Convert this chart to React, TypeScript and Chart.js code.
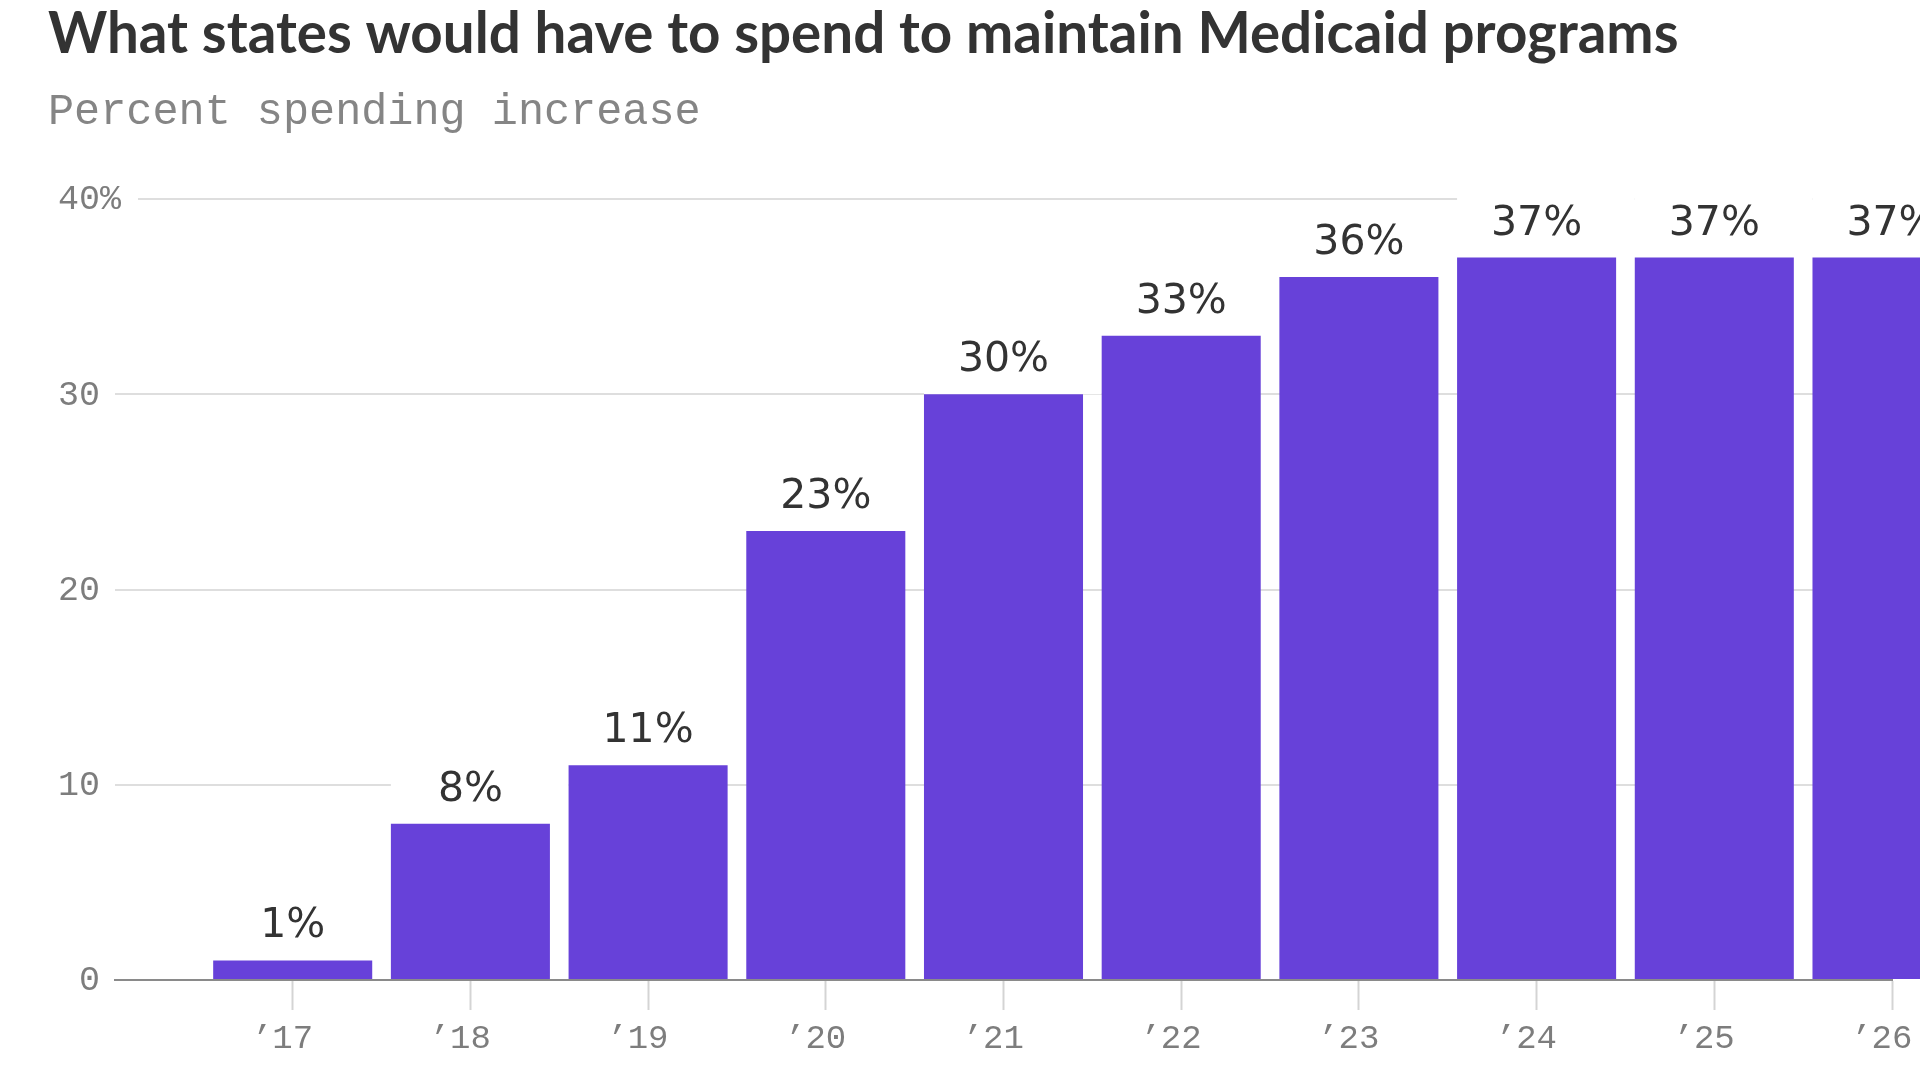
import React, { useEffect, useRef } from 'react';
import { Chart, registerables } from 'chart.js';

Chart.register(...registerables);

// ---- data ----
const TITLE = 'What states would have to spend to maintain Medicaid programs';
const SUBTITLE = 'Percent spending increase';
const years = [2017, 2018, 2019, 2020, 2021, 2022, 2023, 2024, 2025, 2026];
const increases = [1, 8, 11, 23, 30, 33, 36, 37, 37, 37];
const yTickValues = [0, 10, 20, 30, 40];
const axisStartYear = 2016;
const axisEndYear = 2026;

const BAR_COLOR = '#6741d9';
const MONO = '"Liberation Mono", "DejaVu Sans Mono", monospace';
const LABEL_FONT = '"DejaVu Sans", "Liberation Sans", sans-serif';
const BAR_PCT = 0.895;

const yearLabel = (v: number) => '\u2019' + String(v).slice(2) + ' ';

const decorPlugin = {
  id: 'decor',
  beforeDraw(chart: any) {
    const { ctx } = chart;
    ctx.save();
    ctx.fillStyle = '#ffffff';
    ctx.fillRect(0, 0, chart.width, chart.height);
    ctx.textAlign = 'left';
    ctx.textBaseline = 'alphabetic';
    ctx.fillStyle = '#333333';
    ctx.font = '700 56.5px Lato, sans-serif';
    ctx.fillText(TITLE, 48, 53);
    ctx.fillStyle = '#858585';
    ctx.font = `43.5px ${MONO}`;
    ctx.fillText(SUBTITLE, 48, 124);
    ctx.restore();
  },
  beforeDatasetsDraw(chart: any) {
    const { ctx, chartArea } = chart;
    const ys = chart.scales.y;
    const xs = chart.scales.x;
    ctx.save();
    // y tick labels (number right-aligned, % hanging)
    ctx.font = `35px ${MONO}`;
    ctx.textBaseline = 'middle';
    const xRight = chartArea.left - 15;
    yTickValues.forEach((v) => {
      const py = ys.getPixelForValue(v);
      const num = String(v);
      const suffix = v === yTickValues[yTickValues.length - 1] ? '%' : '';
      if (suffix) {
        const sw = ctx.measureText(suffix).width;
        ctx.fillStyle = '#ffffff';
        ctx.fillRect(xRight - 80, py - 20, 80 + sw + 17, 40);
      }
      ctx.fillStyle = '#7d7d7d';
      ctx.textAlign = 'right';
      ctx.fillText(num, xRight, py + 1);
      if (suffix) {
        ctx.textAlign = 'left';
        ctx.fillText(suffix, xRight, py + 1);
      }
    });
    // white label boxes behind value labels
    const meta = chart.getDatasetMeta(0);
    meta.data.forEach((bar: any, i: number) => {
      const pitch = xs.getPixelForValue(years[i] + 1) - xs.getPixelForValue(years[i]);
      const left = bar.x - bar.width / 2;
      const top = bar.y - 23 - 32 - 9;
      ctx.fillStyle = '#ffffff';
      ctx.fillRect(left, top, pitch, bar.y - top);
    });
    ctx.restore();
  },
  afterDatasetsDraw(chart: any) {
    const { ctx } = chart;
    const meta = chart.getDatasetMeta(0);
    ctx.save();
    ctx.font = `41px ${LABEL_FONT}`;
    ctx.fillStyle = '#333333';
    ctx.textAlign = 'center';
    ctx.textBaseline = 'alphabetic';
    meta.data.forEach((bar: any, i: number) => {
      ctx.fillText(increases[i] + '%', bar.x, bar.y - 23);
    });
    ctx.restore();
  },
};

export default function App() {
  const ref = useRef<HTMLCanvasElement | null>(null);
  useEffect(() => {
    document.body.style.overflow = 'hidden';
    const canvas = ref.current;
    if (!canvas) return;
    const chart = new Chart(canvas, {
      type: 'bar',
      data: {
        datasets: [
          {
            data: years.map((x, i) => ({ x, y: increases[i] })),
            backgroundColor: BAR_COLOR,
            borderWidth: 0,
            categoryPercentage: 1,
            barPercentage: BAR_PCT,
            clip: false,
          },
        ],
      },
      options: {
        animation: false,
        responsive: false,
        devicePixelRatio: 1,
        layout: { padding: { top: 199, left: 115, right: 28, bottom: 0 } },
        plugins: { legend: { display: false }, tooltip: { enabled: false }, title: { display: false } },
        scales: {
          x: {
            type: 'linear',
            min: axisStartYear,
            max: axisEndYear,
            offset: false,
            grid: {
              offset: false,
              drawOnChartArea: false,
              drawTicks: true,
              tickLength: 30,
              tickWidth: 2,
              tickColor: (c: any) => (c.tick && c.tick.value === axisStartYear ? 'rgba(0,0,0,0)' : '#d4d4d4'),
            },
            border: { display: true, color: '#8a8a8a', width: 2 },
            ticks: {
              stepSize: 1,
              autoSkip: false,
              maxRotation: 0,
              minRotation: 0,
              padding: 9,
              color: '#7d7d7d',
              font: { family: MONO, size: 34 },
              callback: (v: any) => (v === axisStartYear ? '' : yearLabel(Number(v))),
            },
            afterFit: (s: any) => {
              s.height = 100;
              s.paddingLeft = 0;
              s.paddingRight = 0;
            },
          },
          y: {
            type: 'linear',
            min: 0,
            max: 40,
            ticks: { display: false, stepSize: 10 },
            grid: { color: '#dedede', lineWidth: 2, drawTicks: false },
            border: { display: false },
            afterFit: (s: any) => {
              s.width = 0;
              s.paddingTop = 0;
              s.paddingBottom = 0;
            },
          },
        },
      } as any,
      plugins: [decorPlugin],
    });
    return () => chart.destroy();
  }, []);
  return (
    <div style={{ position: 'fixed', left: 0, top: 0, width: 1920, height: 1080, background: '#fff', overflow: 'hidden' }}>
      <canvas ref={ref} width={1920} height={1080} style={{ display: 'block', width: 1920, height: 1080 }} />
    </div>
  );
}
